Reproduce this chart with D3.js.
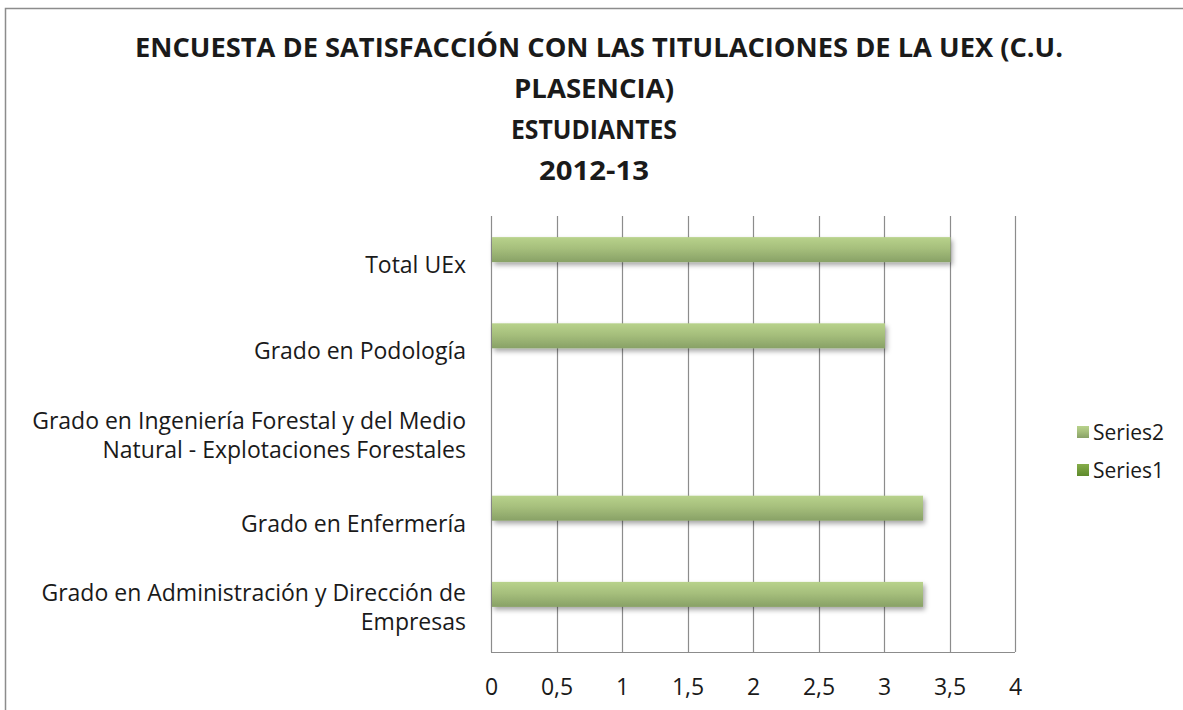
<!DOCTYPE html>
<html>
<head>
<meta charset="utf-8">
<script src="https://cdn.jsdelivr.net/npm/d3@7"></script>
<style>
  body { margin: 0; background: #fff; }
  text { font-family: "Open Sans", "Noto Sans", sans-serif; fill: #1a1a1a; }
</style>
</head>
<body>
<div id="chart"></div>
<script>
const categories = [
  'Grado en Administración y Dirección de Empresas',
  'Grado en Enfermería',
  'Grado en Ingeniería Forestal y del Medio Natural - Explotaciones Forestales',
  'Grado en Podología',
  'Total UEx'
];
const labelLines = [
  ['Grado en Administración y Dirección de', 'Empresas'],
  ['Grado en Enfermería'],
  ['Grado en Ingeniería Forestal y del Medio', 'Natural - Explotaciones Forestales'],
  ['Grado en Podología'],
  ['Total UEx']
];
const series1 = [0, 0, 0, 0, 0];
const series2 = [3.29, 3.29, 0, 3.0, 3.5];
const seriesNames = ['Series1', 'Series2'];
const xTicks = [0, 0.5, 1, 1.5, 2, 2.5, 3, 3.5, 4];
const titleLines = [
  'ENCUESTA DE SATISFACCIÓN CON LAS TITULACIONES DE LA UEX (C.U.',
  'PLASENCIA)',
  'ESTUDIANTES',
  '2012-13'
];
// rendered widths of the title lines (Calibri-like, narrow)
const titleWidths = [928, 160, 166, 110];

const width = 1183, height = 710;
const plot = { left: 491, right: 1015, top: 216, bottom: 652 };

const svg = d3.select('#chart').append('svg')
  .attr('width', width)
  .attr('height', height);

const defs = svg.append('defs');
const g2 = defs.append('linearGradient').attr('id', 'grad2')
  .attr('x1', 0).attr('y1', 0).attr('x2', 0).attr('y2', 1);
g2.append('stop').attr('offset', '0%').attr('stop-color', '#b8d28c');
g2.append('stop').attr('offset', '45%').attr('stop-color', '#a6bf7c');
g2.append('stop').attr('offset', '100%').attr('stop-color', '#88a166');
const g1 = defs.append('linearGradient').attr('id', 'grad1')
  .attr('x1', 0).attr('y1', 0).attr('x2', 0).attr('y2', 1);
g1.append('stop').attr('offset', '0%').attr('stop-color', '#86ad4a');
g1.append('stop').attr('offset', '100%').attr('stop-color', '#5e8a2c');
const shadow = defs.append('filter').attr('id', 'shadow')
  .attr('x', '-5%').attr('y', '-50%').attr('width', '110%').attr('height', '220%');
shadow.append('feDropShadow')
  .attr('dx', 2).attr('dy', 3).attr('stdDeviation', 2.5)
  .attr('flood-color', '#000').attr('flood-opacity', 0.35);

// chart frame
svg.append('rect')
  .attr('x', 5.5).attr('y', 8.5)
  .attr('width', width + 10).attr('height', height + 10)
  .attr('fill', 'none')
  .attr('stroke', '#8c8c8c')
  .attr('stroke-width', 1.5);

// title
svg.append('g').selectAll('text')
  .data(titleLines)
  .join('text')
    .attr('x', (d, i) => i === 0 ? 599 : 594)
    .attr('y', (d, i) => 57 + i * 41)
    .attr('text-anchor', 'middle')
    .attr('font-size', 26)
    .attr('font-weight', 'bold')
    .attr('textLength', (d, i) => titleWidths[i])
    .attr('lengthAdjust', 'spacingAndGlyphs')
    .text(d => d);

const x = d3.scaleLinear().domain([0, 4]).range([plot.left, plot.right]);
const y = d3.scaleBand()
  .domain(categories.slice().reverse())
  .range([plot.top, plot.bottom + 1])
  .paddingInner(0.42)
  .paddingOuter(0.245);
const ySeries = d3.scaleBand()
  .domain(['Series2', 'Series1'])
  .range([0, y.bandwidth()]);

// grid
svg.append('g').selectAll('line')
  .data(xTicks)
  .join('line')
    .attr('x1', d => Math.round(x(d)) + 0.5)
    .attr('x2', d => Math.round(x(d)) + 0.5)
    .attr('y1', plot.top)
    .attr('y2', plot.bottom)
    .attr('stroke', '#8c8c8c')
    .attr('stroke-width', 1.2);
svg.append('line')
  .attr('x1', plot.left).attr('x2', plot.right)
  .attr('y1', plot.bottom + 0.5).attr('y2', plot.bottom + 0.5)
  .attr('stroke', '#8c8c8c')
  .attr('stroke-width', 1.2);

// x axis
const xAxis = d3.axisBottom(x)
  .tickValues(xTicks)
  .tickSize(0)
  .tickPadding(27)
  .tickFormat(d => String(d).replace('.', ','));
svg.append('g')
  .attr('transform', `translate(0, ${plot.bottom})`)
  .call(xAxis)
  .call(g => g.select('.domain').remove())
  .call(g => g.selectAll('text')
    .attr('font-size', 23)
    .attr('fill', '#1a1a1a')
    .attr('font-family', '"Open Sans", sans-serif'));

// category labels
const labels = svg.append('g');
categories.forEach((c, i) => {
  const lines = labelLines[i];
  const cy = y(c) + y.bandwidth() / 2;
  labels.append('text')
    .attr('x', 466)
    .attr('y', lines.length === 1 ? cy + 11 : cy - 6)
    .attr('text-anchor', 'end')
    .attr('font-size', 23)
    .selectAll('tspan')
    .data(lines)
    .join('tspan')
      .attr('x', 466)
      .attr('dy', (d, j) => j === 0 ? 0 : 29)
      .text(d => d);
});

// bars
const rows = categories.map((c, i) => ({ cat: c, s1: series1[i], s2: series2[i] }));
svg.append('g').selectAll('rect')
  .data(rows.filter(d => d.s2 > 0))
  .join('rect')
    .attr('x', x(0) + 1)
    .attr('y', d => y(d.cat) + ySeries('Series2'))
    .attr('width', d => x(d.s2) - x(0))
    .attr('height', ySeries.bandwidth())
    .attr('fill', 'url(#grad2)')
    .attr('filter', 'url(#shadow)');
svg.append('g').selectAll('rect')
  .data(rows)
  .join('rect')
    .attr('x', x(0) + 1)
    .attr('y', d => y(d.cat) + ySeries('Series1'))
    .attr('width', d => x(d.s1) - x(0))
    .attr('height', ySeries.bandwidth())
    .attr('fill', 'url(#grad1)');

// legend
const legend = svg.append('g');
const legendItems = seriesNames.slice().reverse();
legendItems.forEach((s, i) => {
  const ly = 432 + i * 38;
  legend.append('rect')
    .attr('x', 1077).attr('y', ly - 6)
    .attr('width', 12).attr('height', 12)
    .attr('fill', s === 'Series2' ? 'url(#grad2)' : 'url(#grad1)');
  legend.append('text')
    .attr('x', 1093).attr('y', ly + 8)
    .attr('font-size', 21)
    .text(s);
});
</script>
</body>
</html>
